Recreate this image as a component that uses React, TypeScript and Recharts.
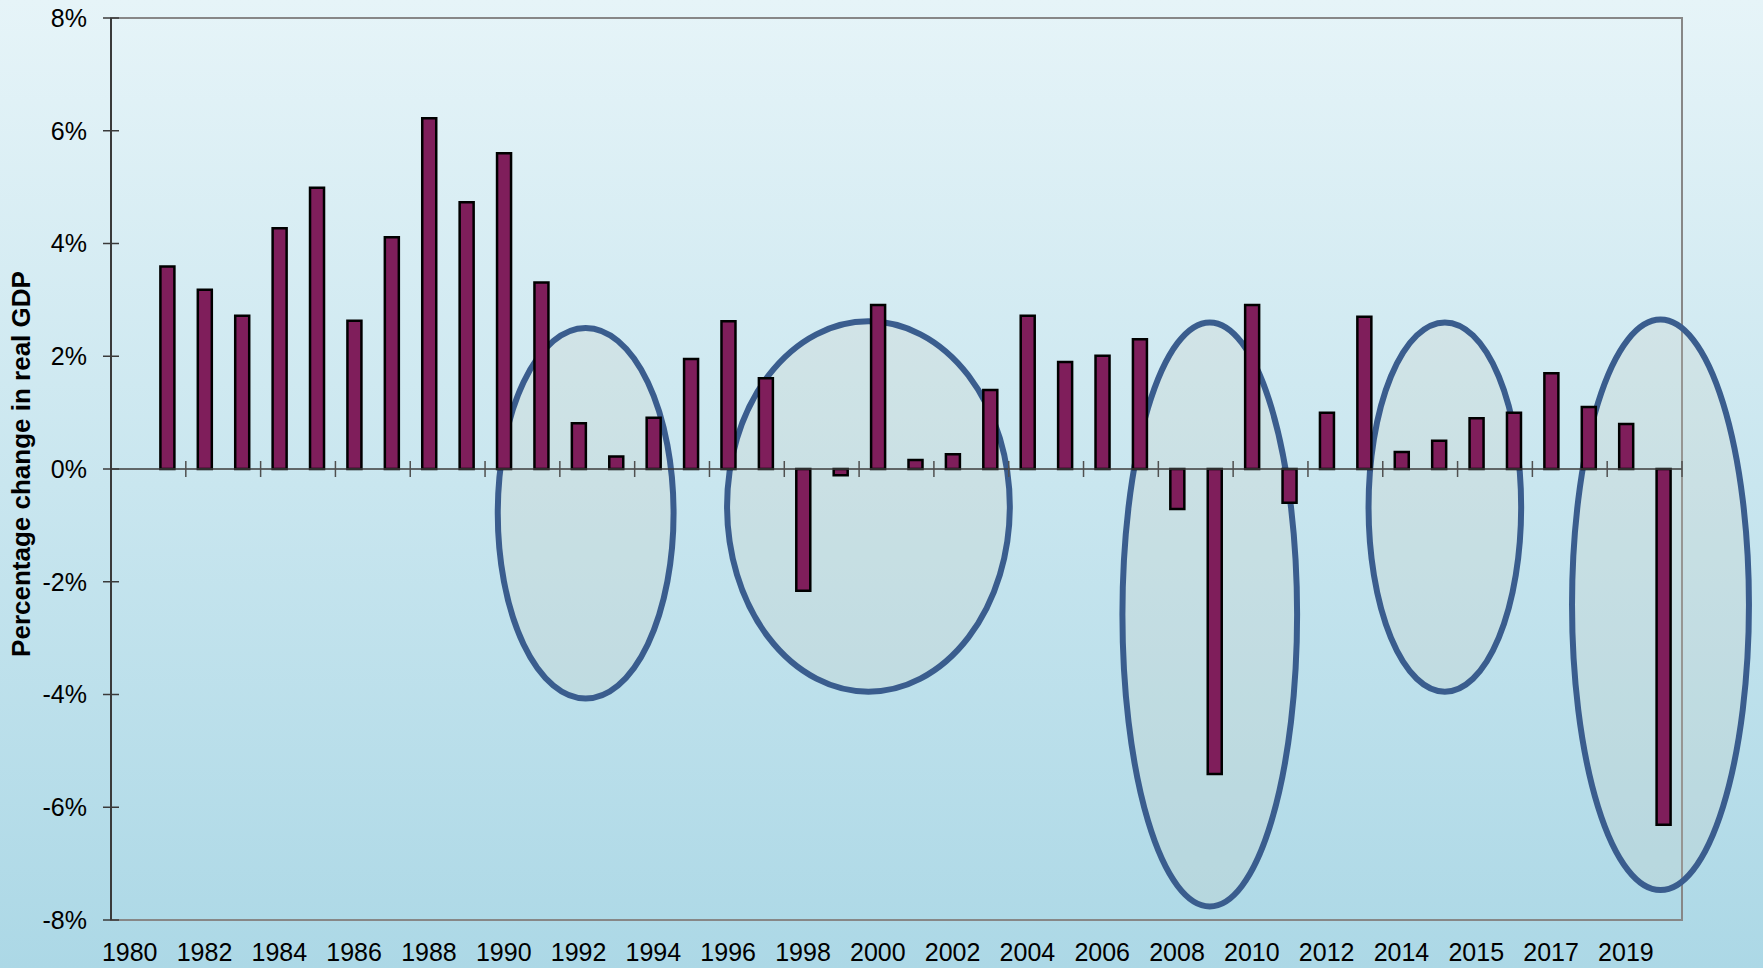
import {
  BarChart,
  Bar,
  XAxis,
  YAxis,
  ReferenceLine,
  ReferenceArea,
  Label,
} from 'recharts';

const FONT = '"Liberation Sans", Arial, sans-serif';

// Labels printed under every second slot of the category axis
const yearLabels = [
  '1980', '1982', '1984', '1986', '1988', '1990', '1992', '1994', '1996',
  '1998', '2000', '2002', '2004', '2006', '2008', '2010', '2012', '2014',
  '2015', '2017', '2019',
];

// Annual % change in real GDP, one value per slot (first slot is empty)
const growth: (number | null)[] = [
  null, 3.59, 3.18, 2.72, 4.27, 4.99, 2.63, 4.11, 6.22, 4.73, 5.6, 3.31,
  0.81, 0.22, 0.91, 1.95, 2.62, 1.61, -2.16, -0.11, 2.91, 0.16, 0.26, 1.4,
  2.72, 1.9, 2.01, 2.3, -0.71, -5.41, 2.91, -0.6, 1.0, 2.7, 0.3, 0.5, 0.9,
  1.0, 1.7, 1.1, 0.8, -6.31,
];

const yTicks = [-8, -6, -4, -2, 0, 2, 4, 6, 8];

// Slowdown periods circled on the chart: slot range and % range
const slowdownFrom = [9.84, 15.97, 26.54, 33.12, 38.56];
const slowdownTo = [14.54, 23.53, 31.21, 37.2, 43.29];
const slowdownTop = [2.5, 2.62, 2.6, 2.6, 2.65];
const slowdownBottom = [-4.07, -3.95, -7.76, -3.95, -7.47];

const data = growth.map((value, slot) => ({ slot, value }));
const xTicks = yearLabels.map((_, i) => i * 2);
// category boundaries where the zero line gets its small cross ticks
const zeroTicks = yearLabels.map((_, i) => i * 2 + 1.5);
const TICK_HALF = 0.142;

function Ellipse(props: any) {
  const { x, y, width, height } = props;
  return (
    <ellipse
      cx={x + width / 2}
      cy={y + height / 2}
      rx={Math.abs(width) / 2}
      ry={Math.abs(height) / 2}
      style={{
        fill: 'rgba(205, 205, 190, 0.22)',
        stroke: '#3a5d8e',
        strokeWidth: 6,
      }}
    />
  );
}

function YTick({ x, y, payload }: any) {
  const axisX = x + 24;
  return (
    <g>
      <line x1={axisX - 8} x2={axisX + 8} y1={y} y2={y} stroke="#3a3a3a" strokeWidth={1.5} />
      <text x={x} y={y} dy="0.355em" textAnchor="end" fontSize={25} fontFamily={FONT} fill="#000">
        {`${payload.value}%`}
      </text>
    </g>
  );
}

function AxisTitle({ viewBox }: any) {
  const cx = viewBox.x + 30;
  const cy = viewBox.y + viewBox.height / 2 - 5;
  return (
    <text
      x={cx}
      y={cy}
      transform={`rotate(-90 ${cx} ${cy})`}
      textAnchor="middle"
      fontWeight="bold"
      fontSize={26}
      fontFamily={FONT}
      fill="#000"
    >
      Percentage change in real GDP
    </text>
  );
}

export default function App() {
  return (
    <div
      style={{
        position: 'absolute',
        left: 0,
        top: 0,
        width: 1763,
        height: 968,
        background: 'linear-gradient(to bottom, #e6f4f8 0%, #acd8e6 100%)',
      }}
    >
      <BarChart
        width={1763}
        height={968}
        data={data}
        margin={{ top: 18, right: 81, left: 0, bottom: 0 }}
      >
        <ReferenceArea
          x1={-0.5}
          x2={41.5}
          y1={-8}
          y2={8}
          fill="none"
          stroke="#878787"
          strokeWidth={2}
          ifOverflow="visible"
        />
        <Bar
          dataKey="value"
          fill="#7f1e5b"
          stroke="#000"
          strokeWidth={2.5}
          barSize={14}
          isAnimationActive={false}
        />
        <ReferenceLine y={0} stroke="#3c3c3c" strokeWidth={1.5} />
        {zeroTicks.map((b) => (
          <ReferenceLine
            key={b}
            segment={[
              { x: b, y: -TICK_HALF },
              { x: b, y: TICK_HALF },
            ]}
            stroke="#505050"
            strokeWidth={1.5}
            ifOverflow="visible"
          />
        ))}
        {slowdownFrom.map((from, i) => (
          <ReferenceArea
            key={from}
            x1={from}
            x2={slowdownTo[i]}
            y1={slowdownBottom[i]}
            y2={slowdownTop[i]}
            ifOverflow="visible"
            shape={<Ellipse />}
          />
        ))}
        <XAxis
          dataKey="slot"
          type="number"
          domain={[-0.5, 41.5]}
          ticks={xTicks}
          interval={0}
          axisLine={false}
          tickLine={false}
          tickSize={0}
          tickMargin={23}
          height={48}
          tickFormatter={(v: number) => yearLabels[v / 2] ?? ''}
          tick={{ fill: '#000', fontSize: 25, fontFamily: FONT }}
        />
        <YAxis
          domain={[-8, 8]}
          ticks={yTicks}
          interval={0}
          width={111}
          tickLine={false}
          tickSize={0}
          tickMargin={24}
          axisLine={{ stroke: '#3a3a3a', strokeWidth: 2 }}
          tick={<YTick />}
        >
          <Label content={<AxisTitle />} />
        </YAxis>
      </BarChart>
    </div>
  );
}
